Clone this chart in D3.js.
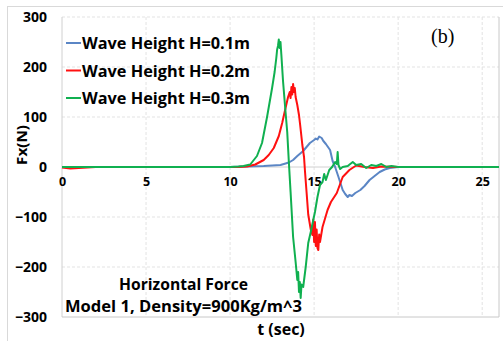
<!DOCTYPE html>
<html>
<head>
<meta charset="utf-8">
<script src="https://cdn.jsdelivr.net/npm/d3@7"></script>
<style>
  body { margin: 0; background: #fff; }
  text { font-family: "Open Sans", sans-serif; font-weight: bold; fill: #000; }
</style>
</head>
<body>
<div class="canvas"></div>
<script>
const dims = { width: 503, height: 341 }

// tick labels
const xTicks = [0, 5, 10, 15, 20, 25]
const yTicks = [-300, -200, -100, 0, 100, 200, 300]

// series (t in sec, Fx in N)
const blueT = [0, 4, 8, 10, 11, 12, 12.5, 13, 13.5, 13.75, 14, 14.35, 14.75, 15.0, 15.1, 15.2, 15.3, 15.35, 15.45, 15.55, 15.7, 15.95, 16.1, 16.25, 16.45, 16.7, 16.85, 17.0, 17.1, 17.25, 17.45, 17.75, 18.0, 18.3, 18.6, 18.9, 19.2, 19.5, 20, 22, 24, 26]
const blueF = [0, 0, 0, 0, 1, 2, 3, 4, 9, 14, 22, 32, 48, 54, 57, 55, 61, 60, 58, 52, 46, 34, 12, 0, -20, -46, -54, -60, -56, -58, -52, -46, -38, -26, -18, -10, -5, -2, 0, 0, 0, 0]

const redT = [0, 0.5, 1, 1.5, 2, 4, 8, 10.5, 11, 11.5, 12, 12.3, 12.6, 12.9, 13.1, 13.3, 13.45, 13.55, 13.6, 13.65, 13.7, 13.75, 13.8, 13.85, 13.9, 14.0, 14.1, 14.17, 14.3, 14.4, 14.46, 14.55, 14.65, 14.8, 14.9, 14.95, 15.0, 15.05, 15.1, 15.15, 15.2, 15.25, 15.3, 15.35, 15.5, 15.8, 16.0, 16.35, 16.7, 17.1, 17.5, 18.0, 18.5, 19.0, 20, 22, 24, 26]
const redF = [-1, -3, -2, -1, 0, 0, 0, 0, 1, 5, 14, 24, 38, 62, 88, 118, 140, 150, 138, 160, 145, 166, 150, 158, 140, 124, 104, 84, 44, 20, -10, -50, -95, -125, -136, -105, -150, -110, -158, -125, -162, -166, -135, -150, -120, -86, -70, -52, -20, -6, 3, 0, -2, 1, 0, 0, 0, 0]

const greenT = [0, 2, 4, 6, 8, 10, 10.5, 10.8, 11.2, 11.6, 11.9, 12.2, 12.5, 12.65, 12.75, 12.8, 12.85, 12.9, 12.95, 13.0, 13.05, 13.15, 13.3, 13.4, 13.5, 13.6, 13.75, 13.9, 14.0, 14.05, 14.1, 14.15, 14.2, 14.25, 14.35, 14.5, 14.65, 14.8, 14.95, 15.05, 15.2, 15.35, 15.5, 15.6, 15.7, 15.9, 16.07, 16.25, 16.35, 16.4, 16.45, 16.55, 16.7, 17.0, 17.3, 17.5, 17.8, 18.1, 18.4, 18.7, 19.0, 19.3, 19.6, 20, 22, 24, 26]
const greenF = [0, 0, 0, 0, 0, 0, 1, 2, 5, 22, 48, 100, 158, 190, 218, 235, 242, 255, 238, 250, 225, 172, 110, 70, 8, -50, -140, -190, -226, -210, -250, -230, -262, -235, -240, -200, -152, -130, -106, -90, -60, -36, -30, -14, -26, -6, 0, 10, 6, 30, 4, -4, 0, 2, 10, 4, 6, -2, 4, 2, 6, 0, 2, 0, 0, 0, 0]

const series = [
  { name: 'Wave Height H=0.1m', color: '#5b86c5', t: blueT, f: blueF },
  { name: 'Wave Height H=0.2m', color: '#ff1010', t: redT, f: redF },
  { name: 'Wave Height H=0.3m', color: '#10b050', t: greenT, f: greenF }
]

const svg = d3.select('.canvas')
              .append('svg')
              .attr('width', dims.width)
              .attr('height', dims.height)

// outer chart border
svg.append('rect')
   .attr('x', 7.5).attr('y', 6.5)
   .attr('width', 520).attr('height', 360)
   .attr('fill', '#fff')
   .attr('stroke', '#d9d9d9')

const x = d3.scaleLinear().domain([0, 26]).range([62, 499])
const y = d3.scaleLinear().domain([-300, 300]).range([317, 17])

// grid
const grid = svg.append('g')
grid.selectAll('.vgrid')
    .data(xTicks.filter(d => d > 0))
    .enter().append('line')
    .attr('x1', d => x(d)).attr('x2', d => x(d))
    .attr('y1', y(300)).attr('y2', y(-300))
    .attr('stroke', '#e3e3e3').attr('stroke-dasharray', '3,2')
grid.selectAll('.hgrid')
    .data(yTicks.filter(d => d !== 0 && d !== -300))
    .enter().append('line')
    .attr('x1', x(0)).attr('x2', x(26))
    .attr('y1', d => y(d)).attr('y2', d => y(d))
    .attr('stroke', '#e3e3e3').attr('stroke-dasharray', '3,2')

// plot border: left axis, right and bottom edges
svg.append('line').attr('x1', x(0)).attr('x2', x(0)).attr('y1', y(300)).attr('y2', y(-300)).attr('stroke', '#d0d0d0')
svg.append('line').attr('x1', x(26)).attr('x2', x(26)).attr('y1', y(300)).attr('y2', y(-300)).attr('stroke', '#c8c8c8')
svg.append('line').attr('x1', x(0)).attr('x2', x(26)).attr('y1', y(-300)).attr('y2', y(-300)).attr('stroke', '#c8c8c8')
svg.append('line').attr('x1', x(0)).attr('x2', x(26)).attr('y1', y(0)).attr('y2', y(0)).attr('stroke', '#d0d0d0')

// x axis (labels only, sitting under the zero line)
const xAxis = svg.append('g')
                 .attr('transform', `translate(0, ${y(0)})`)
                 .call(d3.axisBottom(x).tickValues(xTicks).tickSize(0).tickPadding(10))
xAxis.select('.domain').remove()
xAxis.selectAll('text').style('font-size', '12.5px').style('font-family', '"Open Sans", sans-serif').style('font-weight', 'bold')

// y axis
const yAxis = svg.append('g')
                 .attr('transform', `translate(47, 0)`)
                 .call(d3.axisLeft(y).tickValues(yTicks).tickSize(0).tickPadding(0))
yAxis.select('.domain').remove()
yAxis.selectAll('text').style('font-size', '14px').style('font-family', '"Open Sans", sans-serif').style('font-weight', 'bold')

// lines
const line = d3.line().x(d => x(d[0])).y(d => y(d[1]))
series.forEach(s => {
  svg.append('path')
     .datum(s.t.map((t, i) => [t, s.f[i]]))
     .attr('fill', 'none')
     .attr('stroke', s.color)
     .attr('stroke-width', 2)
     .attr('stroke-linejoin', 'round')
     .attr('d', line)
})

// legend
series.forEach((s, i) => {
  const ly = 43 + i * 27.5
  svg.append('line').attr('x1', 66).attr('x2', 81).attr('y1', ly).attr('y2', ly)
     .attr('stroke', s.color).attr('stroke-width', 2)
  svg.append('text').attr('x', 82).attr('y', ly + 6)
     .attr('textLength', 168).attr('lengthAdjust', 'spacingAndGlyphs')
     .style('font-size', '16px')
     .text(s.name)
})

// labels
svg.append('text').attr('x', 431).attr('y', 43)
   .style('font-family', '"Liberation Serif", "DejaVu Serif", serif').style('font-weight', 'normal')
   .style('font-size', '20px').text('(b)')

svg.append('text').attr('transform', 'translate(27, 145) rotate(-90)')
   .attr('text-anchor', 'middle')
   .attr('textLength', 40).attr('lengthAdjust', 'spacingAndGlyphs')
   .style('font-size', '15px').text('Fx(N)')

svg.append('text').attr('x', 281).attr('y', 335)
   .attr('text-anchor', 'middle').style('font-size', '16px').text('t (sec)')

svg.append('text').attr('x', 119).attr('y', 290)
   .attr('textLength', 129).attr('lengthAdjust', 'spacingAndGlyphs')
   .style('font-size', '16px').text('Horizontal Force')

svg.append('text').attr('x', 65).attr('y', 312)
   .attr('textLength', 237).attr('lengthAdjust', 'spacingAndGlyphs')
   .style('font-size', '16px').text('Model 1, Density=900Kg/m^3')
</script>
</body>
</html>
